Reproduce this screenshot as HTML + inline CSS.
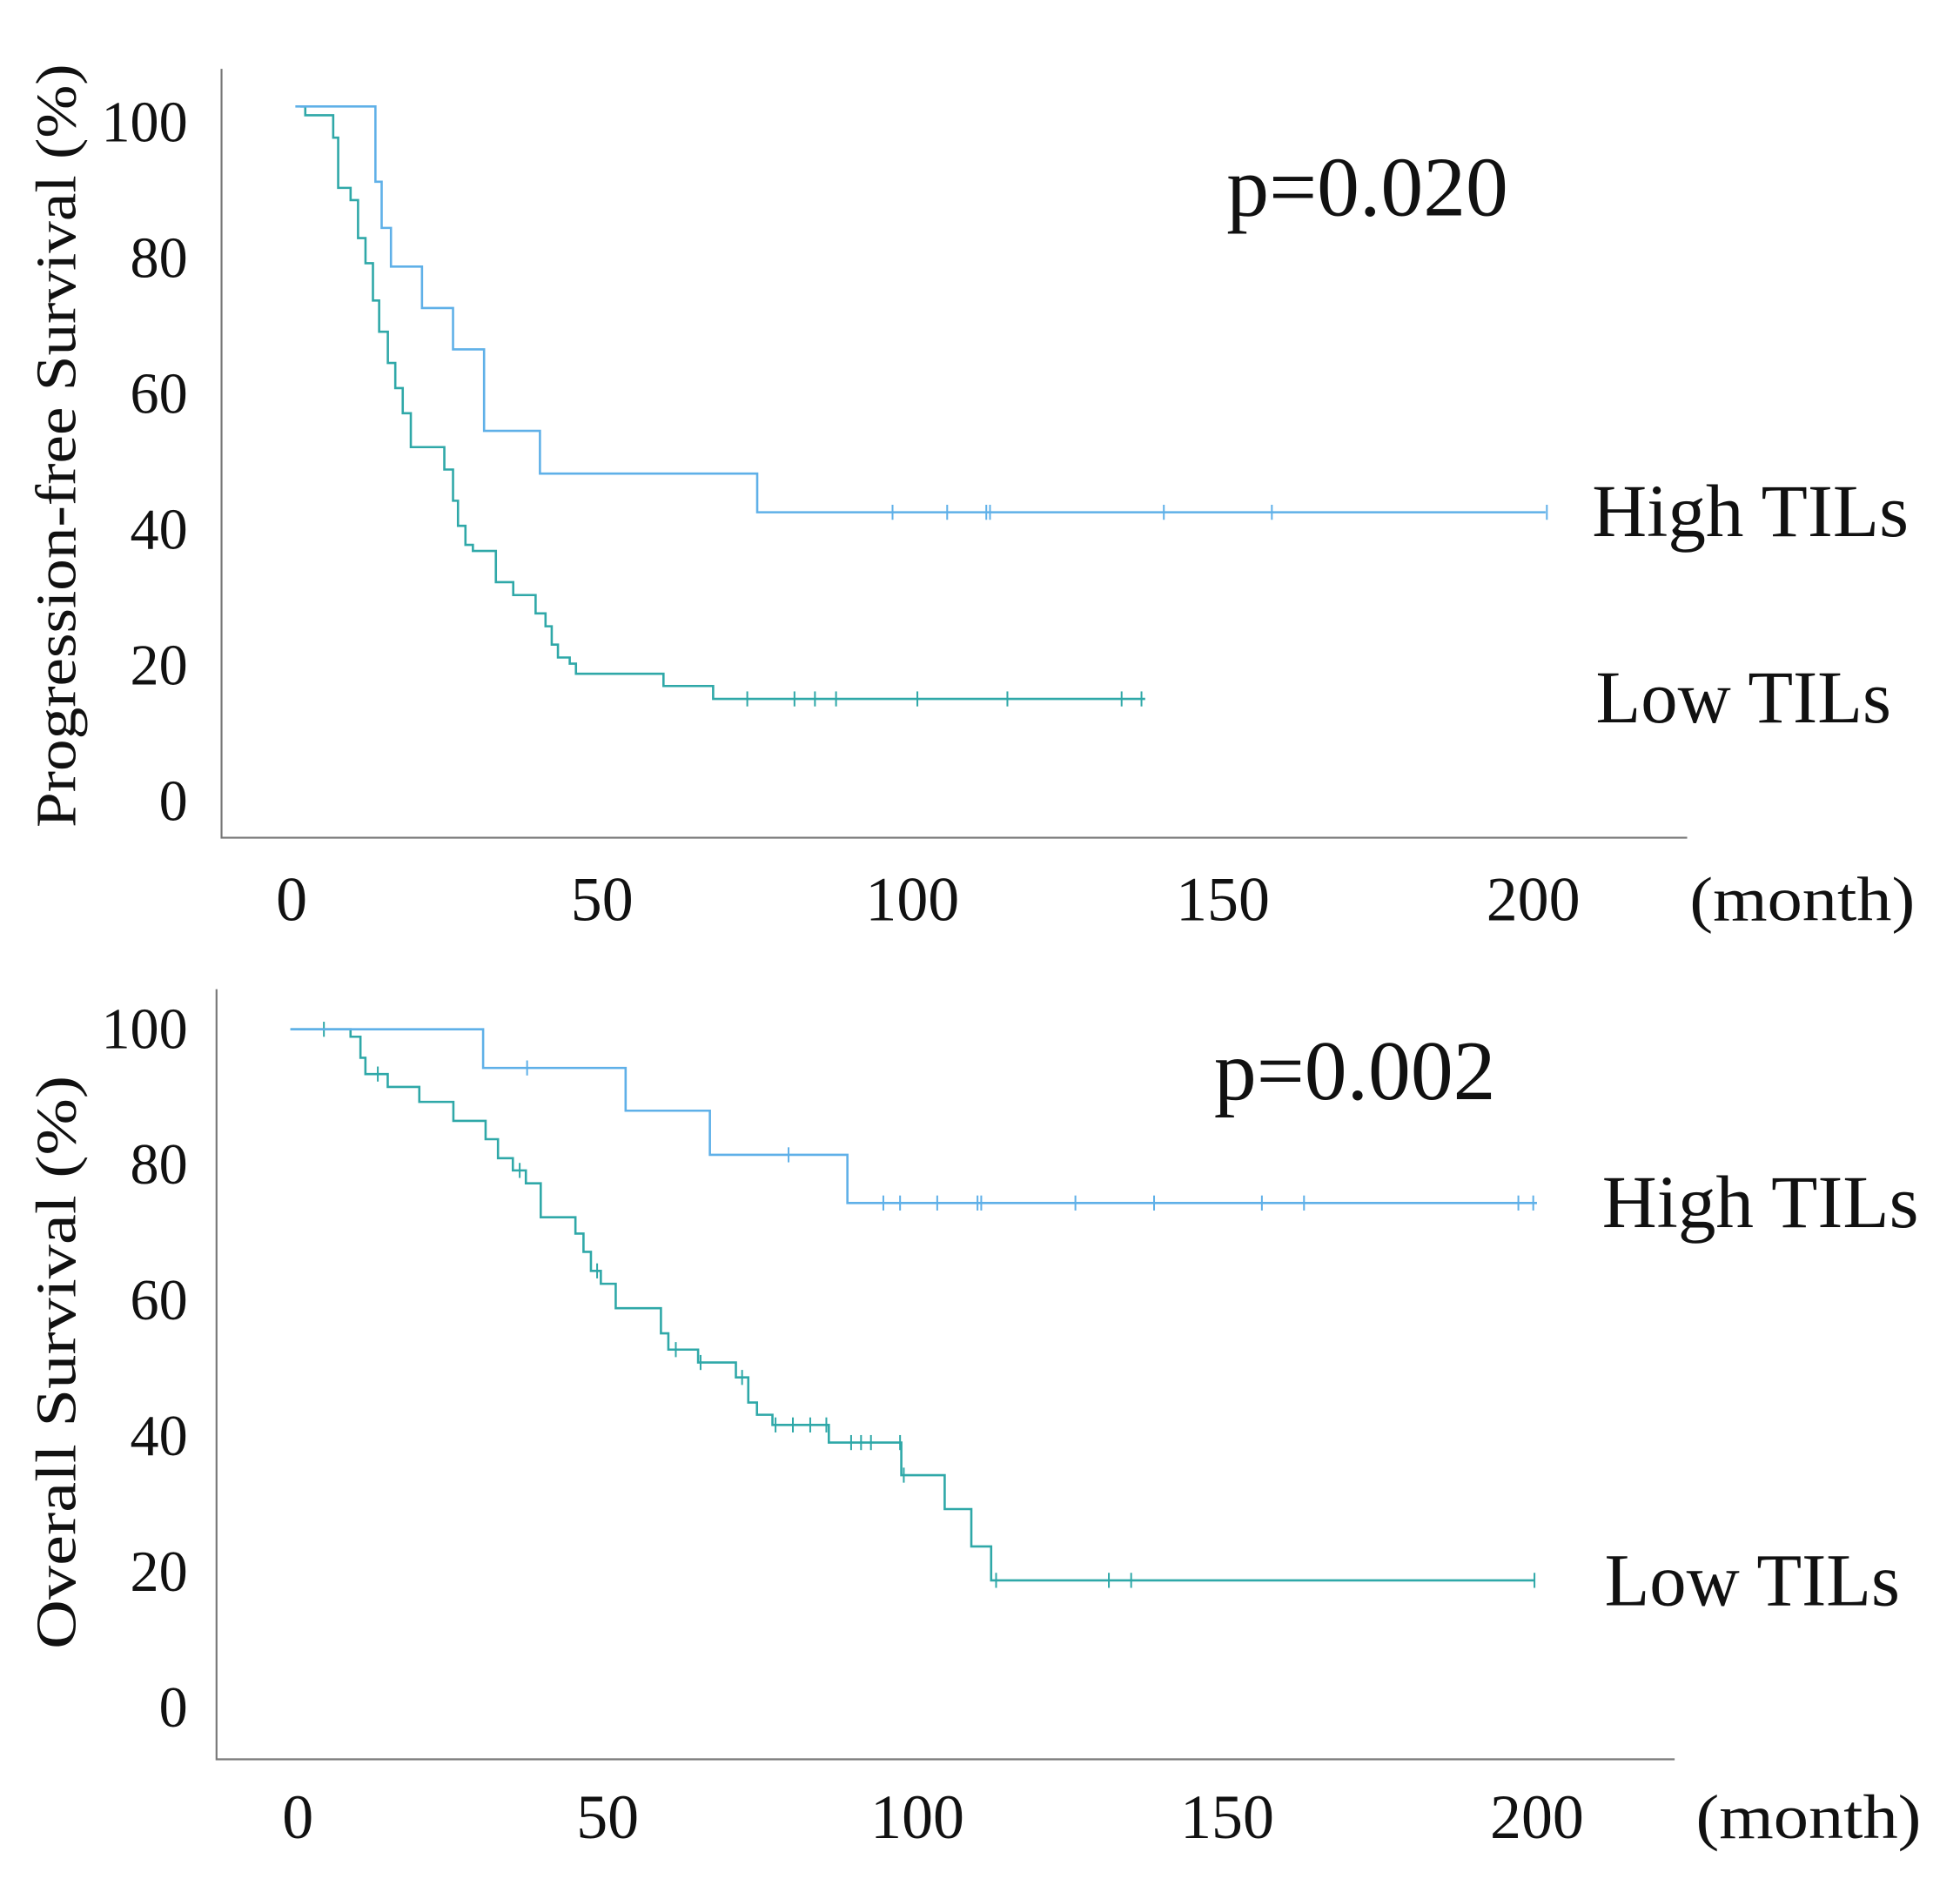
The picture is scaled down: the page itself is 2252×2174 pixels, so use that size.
<!DOCTYPE html>
<html><head><meta charset="utf-8"><style>
html,body{margin:0;padding:0;background:#fff}
svg{display:block}
text{font-family:"Liberation Serif",serif;fill:#111}
</style></head><body>
<svg id="fig" width="2252" height="2174" viewBox="0 0 1566 1511" preserveAspectRatio="none" xmlns="http://www.w3.org/2000/svg">
<rect width="1566" height="1511" fill="#fff"/>
<g id="pfs"></g>
<g id="os"></g>
</svg>
<script>
// ---- data (months, survival %) ----
const xTicks = [0, 50, 100, 150, 200];
const yTicks = [0, 20, 40, 60, 80, 100];
const pfsHighTimes = [0.6, 13.5, 14.5, 16, 21, 26, 31, 40, 75];
const pfsHighVals = [100, 88.9, 82.1, 76.4, 70.3, 64.2, 52.2, 45.9, 40.2];
const pfsHighEnd = 202;
const pfsHighCensor = [96.8, 105.6, 111.9, 112.5, 140.5, 157.9, 202.2];
const pfsLowTimes = [1.4, 2.2, 6.7, 7.5, 9.5, 10.7, 11.9, 13.1, 14.1, 15.5, 16.7, 17.9, 19.2, 24.6, 26.0, 26.8, 28.0, 29.2, 32.9, 35.7, 39.3, 40.9, 41.9, 42.9, 44.8, 45.8, 59.9, 67.9];
const pfsLowVals = [100, 98.7, 95.4, 88.0, 86.2, 80.6, 76.9, 71.4, 66.8, 62.2, 58.5, 54.8, 49.8, 46.5, 41.9, 38.2, 35.4, 34.5, 29.9, 28.0, 25.3, 23.4, 20.7, 18.8, 17.9, 16.4, 14.6, 12.7];
const pfsLowEnd = 137.5;
const pfsLowCensor = [73.4, 81.0, 84.3, 87.7, 100.8, 115.3, 133.7, 136.9];
const osHighTimes = [-1.2, 29.9, 52.9, 66.5, 88.7];
const osHighVals = [100, 94.3, 88.0, 81.5, 74.4];
const osHighEnd = 200;
const osHighCensor = [37, 79.2, 94.5, 97.2, 103.2, 109.7, 110.3, 125.5, 138.2, 155.6, 162.4, 197.0, 199.4];
const osLowTimes = [-1.2, 8.5, 10.1, 10.9, 14.5, 19.6, 25.1, 30.3, 32.3, 34.7, 36.8, 39.2, 44.8, 46.1, 47.3, 48.9, 51.3, 58.6, 59.8, 64.6, 70.7, 72.7, 74.1, 76.6, 85.7, 97.4, 104.4, 108.7, 111.9];
const osLowVals = [100, 98.9, 95.8, 93.4, 91.5, 89.3, 86.5, 83.8, 81.0, 79.2, 77.3, 72.3, 69.9, 67.2, 64.4, 62.5, 58.9, 55.2, 52.8, 50.9, 48.7, 45.0, 43.2, 41.7, 39.1, 34.3, 29.3, 23.8, 18.8];
const osLowEnd = 199.6;
const osLowCensor = [4.2, 12.9, 35.8, 48.3, 61, 65, 71.7, 77.1, 79.9, 82.7, 85.3, 89.3, 90.9, 92.5, 97.2, 97.8, 112.7, 130.9, 134.5, 199.6];

const NS = "http://www.w3.org/2000/svg";
function mk(parent, tag, attrs, txt) {
  const e = document.createElementNS(NS, tag);
  for (const k in attrs) e.setAttribute(k, attrs[k]);
  if (txt !== undefined) e.textContent = txt;
  parent.appendChild(e);
  return e;
}
function stepVal(times, vals, t) {
  let v = vals[0];
  for (let i = 0; i < times.length; i++) if (times[i] <= t) v = vals[i];
  return v;
}
function drawSeries(g, X, Y, times, vals, end, censor, color, name) {
  let d = "M" + X(times[0]) + "," + Y(vals[0]);
  for (let i = 1; i < times.length; i++) {
    d += " H" + X(times[i]) + " V" + Y(vals[i]);
  }
  d += " H" + X(end);
  const p = mk(g, "path", {d: d, fill: "none", stroke: color, "stroke-width": 1.8});
  
  
  censor.forEach(c => {
    const cx = X(c), cy = Y(stepVal(times, vals, c));
    const t = mk(g, "line", {x1: cx, x2: cx, y1: cy - 6, y2: cy + 6, stroke: color, "stroke-width": 1.4});
    
    
  });
}
function drawChart(g, cfg) {
  const X = m => cfg.x0 + m * cfg.xs;
  const Y = v => cfg.yZero - v * 5.42;
  const ax = mk(g, "path", {d: `M${cfg.axX},${cfg.axTop} V${cfg.axY} H${cfg.axRight}`, fill: "none", stroke: "#777", "stroke-width": 1.5});
  
  
  xTicks.forEach(t => {
    const e = mk(g, "text", {x: X(t), y: cfg.xLabY, "text-anchor": "middle", "font-size": 50}, String(t));
    
    
  });
  const mo = mk(g, "text", {x: cfg.monthX, y: cfg.xLabY, "font-size": 50, textLength: 180, lengthAdjust: "spacingAndGlyphs"}, "(month)");
  
  
  yTicks.forEach(t => {
    const e = mk(g, "text", {x: 150, y: cfg.yLab0 - t * 5.42 + 15, "text-anchor": "end", "font-size": 46}, String(t));
    
    
  });
  const yt = mk(g, "text", {x: 0, y: 0, "text-anchor": "middle", "font-size": 46, textLength: cfg.titleLen, lengthAdjust: "spacingAndGlyphs",
    transform: `translate(60,${cfg.titleY}) rotate(-90)`}, cfg.title);
  
  
  drawSeries(g, X, Y, cfg.lt, cfg.lv, cfg.le, cfg.lc, "#2fa8a8", "low-tils");
  drawSeries(g, X, Y, cfg.ht, cfg.hv, cfg.he, cfg.hc, "#5fb0e8", "high-tils");
  const pv = mk(g, "text", {x: cfg.pX, y: cfg.pY, "font-size": 68, textLength: 225, lengthAdjust: "spacingAndGlyphs"}, cfg.p);
  
  
  const hl = mk(g, "text", {x: cfg.hlX, y: cfg.hlY, "font-size": 60, textLength: 253, lengthAdjust: "spacingAndGlyphs"}, "High TILs");
  
  
  const ll = mk(g, "text", {x: cfg.llX, y: cfg.llY, "font-size": 60, textLength: 236, lengthAdjust: "spacingAndGlyphs"}, "Low TILs");
  
  
}
drawChart(document.getElementById("pfs"), {
  x0: 233, xs: 4.96, yZero: 627, axX: 177, axTop: 55, axY: 669, axRight: 1348,
  xLabY: 735, monthX: 1350, yLab0: 640, title: "Progression-free Survival (%)", titleLen: 610, titleY: 356,
  ht: pfsHighTimes, hv: pfsHighVals, he: pfsHighEnd, hc: pfsHighCensor,
  lt: pfsLowTimes, lv: pfsLowVals, le: pfsLowEnd, lc: pfsLowCensor,
  p: "p=0.020", pX: 980, pY: 172, hlX: 1272, hlY: 428, llX: 1275, llY: 577
});
drawChart(document.getElementById("os"), {
  x0: 238, xs: 4.95, yZero: 1364, axX: 173, axTop: 790, axY: 1405, axRight: 1338,
  xLabY: 1468, monthX: 1355, yLab0: 1364, title: "Overall Survival (%)", titleLen: 458, titleY: 1088,
  ht: osHighTimes, hv: osHighVals, he: osHighEnd, hc: osHighCensor,
  lt: osLowTimes, lv: osLowVals, le: osLowEnd, lc: osLowCensor,
  p: "p=0.002", pX: 970, pY: 878, hlX: 1280, hlY: 980, llX: 1282, llY: 1282
});
</script>
</body></html>
